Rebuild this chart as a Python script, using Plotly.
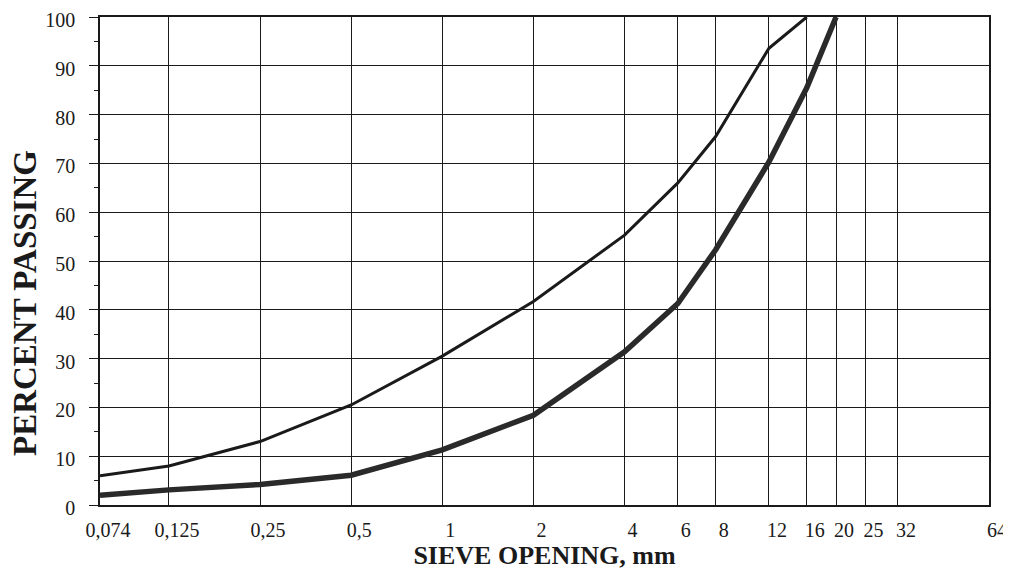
import math
import plotly.graph_objects as go

# Sieve openings (mm) and tick labels
sieves = [0.074, 0.125, 0.25, 0.5, 1, 2, 4, 6, 8, 12, 16, 20, 25, 32, 64]
sieve_labels = ["0,074", "0,125", "0,25", "0,5", "1", "2", "4", "6", "8", "12",
                "16", "20", "25", "32", "64"]

# Upper (fine) gradation curve
upper_x = [0.074, 0.125, 0.25, 0.5, 1, 2, 4, 6, 8, 12, 16]
upper_y = [6, 8, 13, 20.5, 30.5, 41.7, 55.3, 66, 75.5, 93.6, 100]

# Lower (coarse) gradation curve
lower_x = [0.074, 0.125, 0.25, 0.5, 1, 2, 4, 6, 8, 12, 16, 20]
lower_y = [2, 3.1, 4.2, 6.1, 11.3, 18.4, 31.4, 41.3, 52.3, 70.3, 85.5, 100]

y_ticks = list(range(0, 101, 10))

fig = go.Figure()
fig.add_trace(go.Scatter(x=lower_x, y=lower_y, mode="lines",
                         line=dict(color="#2a2a2a", width=5.5), showlegend=False))
fig.add_trace(go.Scatter(x=upper_x, y=upper_y, mode="lines",
                         line=dict(color="#1a1a1a", width=3), showlegend=False))

serif = "Liberation Serif"
# page body has an 8px margin, so the figure is sized to fit the window
fig.update_layout(
    width=1003, height=567,
    margin=dict(l=92, r=22, t=9, b=70),
    paper_bgcolor="white", plot_bgcolor="white",
    font=dict(family=serif, color="#1a1a1a"),
    annotations=[dict(
        text="<b>PERCENT PASSING</b>", textangle=-90,
        xref="paper", yref="paper", x=0, y=0.414,
        xanchor="center", yanchor="middle", xshift=-75, showarrow=False,
        font=dict(family=serif, size=33, color="#1a1a1a"),
    )],
)
fig.update_xaxes(
    type="log", automargin=False,
    range=[math.log10(sieves[0]), math.log10(sieves[-1])],
    tickvals=sieves, ticktext=sieve_labels,
    tickfont=dict(family=serif, size=20, color="#1a1a1a"),
    showgrid=True, gridcolor="#1a1a1a", gridwidth=1,
    showline=True, linecolor="#1a1a1a", linewidth=1.5, mirror=True,
    ticks="", ticklabelstandoff=6, ticklabelshift=8,
    ticklabeloverflow="allow",
    zeroline=False,
    title=dict(text="<b>SIEVE OPENING, mm</b>", standoff=4,
               font=dict(family=serif, size=26, color="#1a1a1a")),
)
fig.update_yaxes(
    range=[0, 100], automargin=False,
    tickvals=y_ticks,
    tickfont=dict(family=serif, size=20, color="#1a1a1a"),
    showgrid=True, gridcolor="#1a1a1a", gridwidth=1,
    showline=True, linecolor="#1a1a1a", linewidth=1.5, mirror=True,
    ticks="outside", ticklen=9, tickcolor="#1a1a1a",
    ticklabelstandoff=10, ticklabelshift=3, ticklabeloverflow="allow",
    minor=dict(tickvals=list(range(5, 100, 10)), ticks="outside", ticklen=4,
               tickcolor="#1a1a1a", showgrid=False),
    zeroline=False,
)

fig.write_html("out.html")
